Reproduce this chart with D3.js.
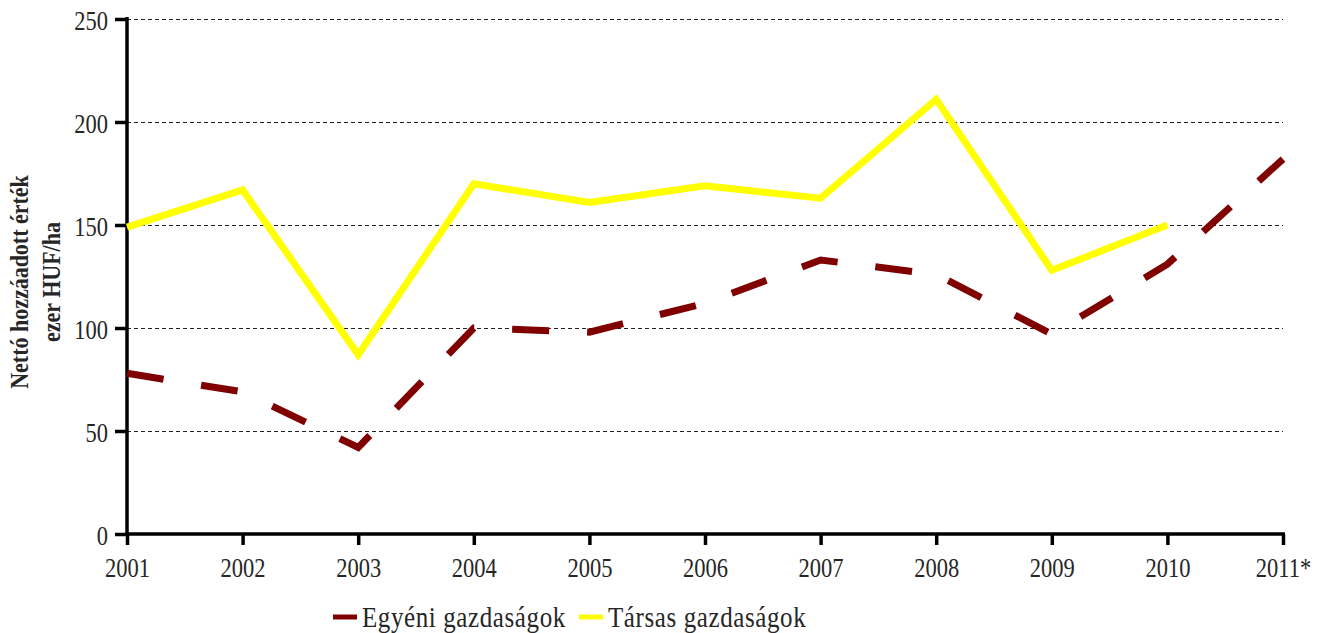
<!DOCTYPE html>
<html><head><meta charset="utf-8">
<script src="https://cdn.jsdelivr.net/npm/d3@7"></script>
<style>body{margin:0;background:#fff;} svg{display:block;font-family:"Liberation Serif","Times New Roman",serif;}</style>
</head><body><svg id="c" width="1325" height="633"></svg>
<script>
const years = ["2001","2002","2003","2004","2005","2006","2007","2008","2009","2010","2011*"];
const egyeni = [78, 69, 42, 100, 98, 112, 133, 126, 97, 131, 182];
const tarsas = [149, 167, 87, 170, 161, 169, 163, 211, 128, 150, null];
const yTicks = [0, 50, 100, 150, 200, 250];
const seriesNames = ["Egyéni gazdaságok", "Társas gazdaságok"];
const colors = ["#800000", "#FFFF00"];

const svg = d3.select("#c");
const L = 127, R = 1283, T = 19, B = 534;
const x = d3.scalePoint().domain(years).range([L, R]);
const y = d3.scaleLinear().domain([0, 250]).range([B, T]);
const textCol = "#262626";

// grid
svg.append("g").selectAll("line").data(yTicks.filter(d => d > 0)).join("line")
  .attr("x1", L).attr("x2", R).attr("y1", d => Math.round(y(d)) + 0.5).attr("y2", d => Math.round(y(d)) + 0.5)
  .attr("stroke", "#222").attr("stroke-width", 1).attr("stroke-dasharray", "4,3");

// y axis
const ya = svg.append("g").attr("transform", `translate(${L},0)`)
  .call(d3.axisLeft(y).tickValues(yTicks).tickSize(12));
ya.select(".domain").attr("stroke-width", 3.5).attr("d", `M0,${T - 2}V${B}`);
ya.selectAll(".tick line").attr("stroke-width", 3.5);
ya.selectAll("text").attr("font-size", 22.5).attr("fill", textCol).attr("font-family", "Liberation Serif")
  .attr("x", 0).attr("y", 0).attr("dy", 0).attr("text-anchor", "end")
  .attr("transform", "translate(-19,10) scale(1,1.25)");

// x axis
const xa = svg.append("g").attr("transform", `translate(0,${B})`)
  .call(d3.axisBottom(x).tickSize(11));
xa.select(".domain").attr("stroke-width", 3.5).attr("d", `M${L - 2},0H${R + 2}`);
xa.selectAll(".tick line").attr("stroke-width", 3.5);
xa.selectAll("text").attr("font-size", 22.5).attr("fill", textCol).attr("font-family", "Liberation Serif")
  .attr("y", 0).attr("dy", 0)
  .attr("transform", "translate(0,43) scale(1,1.25)");

// lines
const line = d3.line().defined(d => d.v != null).x(d => x(d.k)).y(d => y(d.v));
svg.append("path").datum(years.map((k, i) => ({k, v: tarsas[i]})))
  .attr("d", line).attr("fill", "none").attr("stroke", colors[1]).attr("stroke-width", 7)
  .attr("stroke-linejoin", "miter");
svg.append("path").datum(years.map((k, i) => ({k, v: egyeni[i]})))
  .attr("d", line).attr("fill", "none").attr("stroke", colors[0]).attr("stroke-width", 7)
  .attr("stroke-dasharray", "37,38").attr("stroke-linejoin", "miter");

// y title
const yt = svg.append("text").attr("transform", "translate(28,282) rotate(-90) scale(1,1.15)")
  .attr("text-anchor", "middle").attr("font-weight", "bold").attr("font-size", 22).attr("fill", textCol);
yt.append("tspan").attr("x", 0).attr("dy", 0).text("Nettó hozzáadott érték");
yt.append("tspan").attr("x", 0).attr("dy", "1.25em").text("ezer HUF/ha");

// legend
const leg = svg.append("g");
const lx = [333, 579];
seriesNames.forEach((n, i) => {
  leg.append("line").attr("x1", lx[i]).attr("x2", lx[i] + 24).attr("y1", 617).attr("y2", 617)
    .attr("stroke", colors[i]).attr("stroke-width", 5);
  leg.append("text").attr("x", 0).attr("y", 0)
    .attr("transform", `translate(${lx[i] + 29},627) scale(1,1.2)`)
    .attr("font-size", 25).attr("letter-spacing", 0.6).attr("fill", textCol).text(n);
});
</script></body></html>
